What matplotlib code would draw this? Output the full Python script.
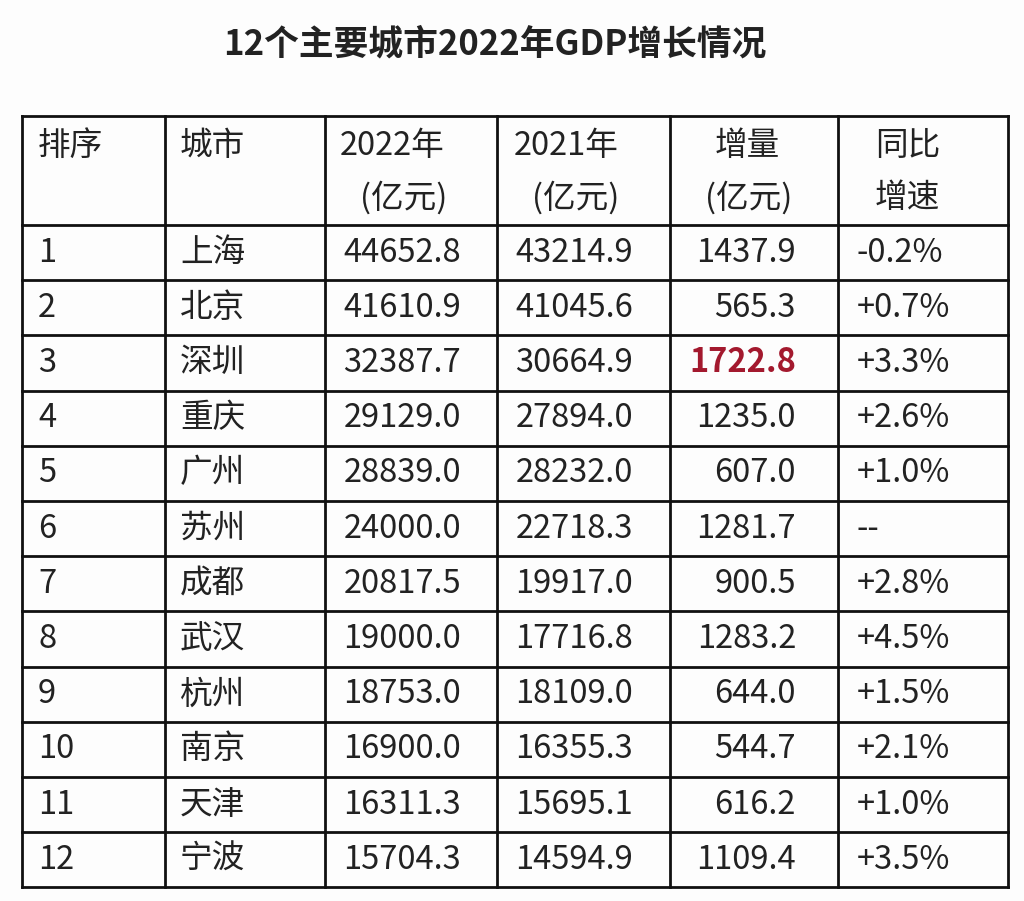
import matplotlib
matplotlib.use("Agg")
import matplotlib.pyplot as plt

plt.rcParams['font.family'] = ['Noto Sans CJK SC', 'DejaVu Sans']

title = "12个主要城市2022年GDP增长情况"
headers = [("排序", ""), ("城市", ""), ("2022年", "(亿元)"), ("2021年", "(亿元)"), ("增量", "(亿元)"), ("同比", "增速")]
ranks = [str(i) for i in range(1, 13)]
cities = ["上海", "北京", "深圳", "重庆", "广州", "苏州", "成都", "武汉", "杭州", "南京", "天津", "宁波"]
gdp2022 = ["44652.8", "41610.9", "32387.7", "29129.0", "28839.0", "24000.0", "20817.5", "19000.0", "18753.0", "16900.0", "16311.3", "15704.3"]
gdp2021 = ["43214.9", "41045.6", "30664.9", "27894.0", "28232.0", "22718.3", "19917.0", "17716.8", "18109.0", "16355.3", "15695.1", "14594.9"]
increase = ["1437.9", "565.3", "1722.8", "1235.0", "607.0", "1281.7", "900.5", "1283.2", "644.0", "544.7", "616.2", "1109.4"]
growth = ["-0.2%", "+0.7%", "+3.3%", "+2.6%", "+1.0%", "--", "+2.8%", "+4.5%", "+1.5%", "+2.1%", "+1.0%", "+3.5%"]

W, H = 1024, 901
fig = plt.figure(figsize=(W/100, H/100), dpi=100)
fig.patch.set_facecolor("#fdfdfd")
ax = fig.add_axes([0, 0, 1, 1])
ax.set_xlim(0, W); ax.set_ylim(H, 0); ax.axis("off")

ax.text(495, 44, title, ha="center", va="center", fontsize=25, fontweight="bold", color="#222222")

cols = [22, 165, 325, 497, 670, 838, 1008]
rows = [116, 225] + [225 + 55.2*(i+1) for i in range(12)]
rows[-1] = 887
for x in cols:
    ax.plot([x, x], [rows[0], rows[-1]], color="#111111", lw=2)
for y in rows:
    ax.plot([cols[0], cols[-1]], [y, y], color="#111111", lw=2)

fs = 23.5
wt = "light"
c = "#222222"
hx = [38, 180, 340, 514, 715, 875]
hx2 = [None, None, 360, 532, 705, 875]
for i, (a, b) in enumerate(headers):
    ax.text(hx[i], 146, a, ha="left", va="center", fontsize=fs, color=c, fontweight=wt)
    if b:
        ax.text(hx2[i], 198, b, ha="left", va="center", fontsize=fs, color=c, fontweight=wt)

for r in range(12):
    yc = (rows[r+1] + rows[r+2]) / 2
    ax.text(38, yc, ranks[r], ha="left", va="center", fontsize=fs, color=c, fontweight=wt)
    ax.text(180, yc, cities[r], ha="left", va="center", fontsize=fs, color=c, fontweight=wt)
    ax.text(461, yc, gdp2022[r], ha="right", va="center", fontsize=fs, color=c, fontweight=wt)
    ax.text(633, yc, gdp2021[r], ha="right", va="center", fontsize=fs, color=c, fontweight=wt)
    if r == 2:
        ax.text(796, yc, increase[r], ha="right", va="center", fontsize=fs, color="#a3192e", fontweight="bold")
    else:
        ax.text(796, yc, increase[r], ha="right", va="center", fontsize=fs, color=c, fontweight=wt)
    ax.text(857, yc, growth[r], ha="left", va="center", fontsize=fs, color=c, fontweight=wt)

fig.savefig("out.png", dpi=100, facecolor=fig.get_facecolor())
